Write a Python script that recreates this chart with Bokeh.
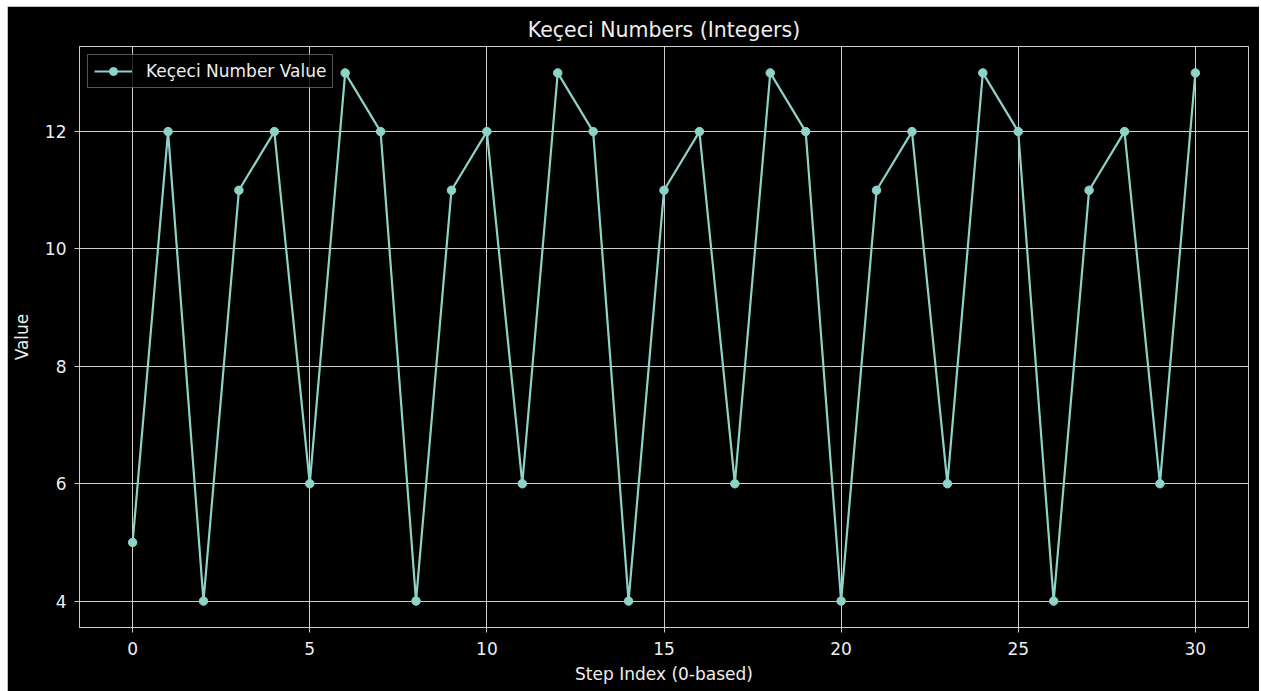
from bokeh.plotting import figure
from bokeh.embed import file_html
from bokeh.resources import INLINE
from bokeh.models import Range1d, FixedTicker

steps = list(range(31))
values = [5, 12, 4, 11, 12, 6, 13, 12, 4, 11, 12, 6, 13, 12, 4, 11, 12, 6,
          13, 12, 4, 11, 12, 6, 13, 12, 4, 11, 12, 6, 13]
x_ticks = [0, 5, 10, 15, 20, 25, 30]
y_ticks = [4, 6, 8, 10, 12]

TXT = "#eeeeee"
FONT = "DejaVu Sans"
LINE = "#8dd3c7"

p = figure(width=1252, height=685, output_backend="svg", toolbar_location=None,
           x_range=Range1d(-1.5, 31.5), y_range=Range1d(3.55, 13.45),
           title="Keçeci Numbers (Integers)",
           x_axis_label="Step Index (0-based)", y_axis_label="Value")
p.margin = (6, 0, 0, 7)
p.min_border_left = 72
p.min_border_right = 11
p.min_border_top = 40
p.min_border_bottom = 64
p.background_fill_color = "black"
p.border_fill_color = "black"
p.outline_line_color = "#cccccc"
p.outline_line_width = 1

p.title.align = "center"
p.title.text_color = TXT
p.title.text_font = FONT
p.title.text_font_size = "20.5px"
p.title.text_font_style = "normal"

p.line(steps, values, line_color=LINE, line_width=2.2, legend_label="Keçeci Number Value")
p.scatter(steps, values, size=8.5, fill_color=LINE, line_color=LINE, legend_label="Keçeci Number Value")

for ax in (p.xaxis[0], p.yaxis[0]):
    ax.axis_line_color = "#cccccc"
    ax.major_tick_line_color = "#cccccc"
    ax.major_tick_out = 5
    ax.major_tick_in = 0
    ax.minor_tick_line_color = None
    ax.major_label_text_color = TXT
    ax.major_label_text_font = FONT
    ax.major_label_text_font_size = "17px"
    ax.axis_label_text_color = TXT
    ax.axis_label_text_font = FONT
    ax.axis_label_text_font_size = "17px"
    ax.axis_label_text_font_style = "normal"
p.xaxis.major_label_standoff = 9
p.xaxis.axis_label_standoff = 6
p.yaxis.major_label_standoff = 8
p.yaxis.axis_label_standoff = 10
p.xaxis.ticker = FixedTicker(ticks=x_ticks)
p.yaxis.ticker = FixedTicker(ticks=y_ticks)

p.grid.grid_line_color = "#cccccc"
p.grid.grid_line_width = 1
p.xgrid.ticker = FixedTicker(ticks=x_ticks)
p.ygrid.ticker = FixedTicker(ticks=y_ticks)

lg = p.legend[0]
lg.location = "top_left"
lg.margin = 8
lg.padding = 6
lg.glyph_width = 38
lg.glyph_height = 20
lg.label_height = 20
lg.label_standoff = 14
lg.label_text_color = TXT
lg.label_text_font = FONT
lg.label_text_font_size = "17px"
lg.background_fill_color = "black"
lg.background_fill_alpha = 0.8
lg.border_line_color = "#aaaaaa"
lg.border_line_width = 1

open("out.html", "w").write(file_html(p, INLINE))
